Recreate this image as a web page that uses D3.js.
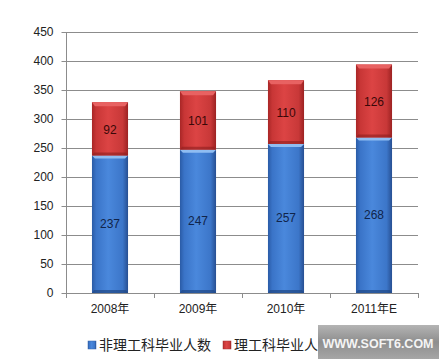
<!DOCTYPE html>
<html><head><meta charset="utf-8">
<script src="https://cdn.jsdelivr.net/npm/d3@7"></script>
<style>body{margin:0;background:#fff}svg{display:block}</style>
</head><body>
<svg id="c" width="439" height="359"></svg>
<script>
const categories = ["2008年","2009年","2010年","2011年E"];
const nonSci = [237,247,257,268];
const sci = [92,101,110,126];
const seriesNames = ["非理工科毕业人数","理工科毕业人数"];
const yTicks = [0,50,100,150,200,250,300,350,400,450];

const svg = d3.select("#c");
const L=66, R=418, T=32, B=293;
const x = d3.scaleBand().domain(categories).range([L,R]).paddingInner(0.59).paddingOuter(0.295);
const y = d3.scaleLinear().domain([0,450]).range([B,T]);
const font = "'Liberation Sans','Noto Sans CJK SC',sans-serif";

const defs = svg.append("defs");
function grad(id, stops, vertical){
  const g = defs.append("linearGradient").attr("id",id).attr("x1","0").attr("x2",vertical?"0":"1").attr("y1","0").attr("y2",vertical?"1":"0");
  stops.forEach(s=>g.append("stop").attr("offset",s[0]).attr("stop-color",s[1]));
}
grad("gb",[[0,"#2a5ba6"],[0.12,"#3a74c8"],[0.45,"#4a88dc"],[0.85,"#3c76c9"],[1,"#274f92"]]);
grad("gr",[[0,"#a82626"],[0.12,"#c83636"],[0.45,"#dc4444"],[0.85,"#c83838"],[1,"#9c2222"]]);
grad("gw",[[0,"#b4b4b4"],[0.5,"#8e8e8e"],[1,"#a6a6a6"]],true);

// gridlines
svg.append("g").selectAll("line").data(yTicks.slice(1)).join("line")
  .attr("x1",L).attr("x2",R).attr("y1",d=>Math.round(y(d))+0.5).attr("y2",d=>Math.round(y(d))+0.5)
  .attr("stroke","#8c8c8c").attr("stroke-width",1);

// y axis
const ya = svg.append("g").attr("transform",`translate(${L+0.5},0)`)
  .call(d3.axisLeft(y).tickValues(yTicks).tickSize(5).tickPadding(8));
ya.select(".domain").attr("stroke","#8c8c8c").attr("d",`M-0,${B}V${T}`);
ya.selectAll(".tick line").attr("stroke","#8c8c8c");
ya.selectAll(".tick text").attr("font-family",font).attr("font-size",12).attr("fill","#222");

// x axis
const xa = svg.append("g").attr("transform",`translate(0,${B+0.5})`)
  .call(d3.axisBottom(x).tickSize(0).tickPadding(11));
xa.select(".domain").attr("stroke","#8c8c8c").attr("d",`M${L},0H${R}`);
xa.selectAll(".tick text").attr("font-family",font).attr("font-size",12).attr("fill","#222");
const bounds = [L, ...categories.map((c,i)=>L+(R-L)/categories.length*(i+1))];
svg.append("g").selectAll("line").data(bounds).join("line")
  .attr("x1",d=>Math.round(d)+0.5).attr("x2",d=>Math.round(d)+0.5).attr("y1",B).attr("y2",B+5)
  .attr("stroke","#8c8c8c");

// bars
const data = categories.map((c,i)=>({c, a:nonSci[i], b:sci[i]}));
const g = svg.append("g");
data.forEach(d=>{
  const x0 = x(d.c), w = x.bandwidth();
  g.append("rect").attr("x",x0).attr("y",y(d.a)).attr("width",w).attr("height",y(0)-y(d.a)).attr("fill","url(#gb)");
  g.append("path").attr("d",`M${x0},${y(d.a)}h${w}l-3,3h${-(w-6)}z`).attr("fill","#8fbdf2");
  g.append("path").attr("d",`M${x0},${y(0)}h${w}l-2,-3h${-(w-4)}z`).attr("fill","#1f4784").attr("opacity",0.7);
  const top = y(d.a+d.b);
  g.append("rect").attr("x",x0).attr("y",top).attr("width",w).attr("height",y(d.a)-top).attr("fill","url(#gr)");
  g.append("path").attr("d",`M${x0},${top}h${w}l-3,4h${-(w-6)}z`).attr("fill","#e86262");
  g.append("path").attr("d",`M${x0},${y(d.a)}h${w}l-2,-3h${-(w-4)}z`).attr("fill","#8e1e1e").attr("opacity",0.6);
  g.append("text").attr("x",x0+w/2).attr("y",(y(0)+y(d.a))/2+4).attr("text-anchor","middle")
    .attr("font-family",font).attr("font-size",12).attr("fill","#10244a").text(d.a);
  g.append("text").attr("x",x0+w/2).attr("y",(y(d.a)+top)/2+5).attr("text-anchor","middle")
    .attr("font-family",font).attr("font-size",12).attr("fill","#3a0808").text(d.b);
});

// legend
const leg = svg.append("g");
const lx = [88, 223];
seriesNames.forEach((n,i)=>{
  leg.append("rect").attr("x",lx[i]).attr("y",341).attr("width",8).attr("height",8)
    .attr("fill",i?"url(#gr)":"url(#gb)").attr("stroke",i?"#a83030":"#3565aa").attr("stroke-width",0.5);
  leg.append("text").attr("x",lx[i]+11).attr("y",350).attr("font-family",font).attr("font-size",14)
    .attr("fill","#222").text(n);
});

// watermark
svg.append("rect").attr("x",318).attr("y",325).attr("width",121).attr("height",34).attr("fill","url(#gw)");
svg.append("text").attr("x",378).attr("y",348).attr("text-anchor","middle").attr("font-family","'Liberation Sans',sans-serif")
  .attr("font-weight","bold").attr("font-size",12.5).attr("fill","#f4f4f4").text("WWW.SOFT6.COM");
</script>
</body></html>
